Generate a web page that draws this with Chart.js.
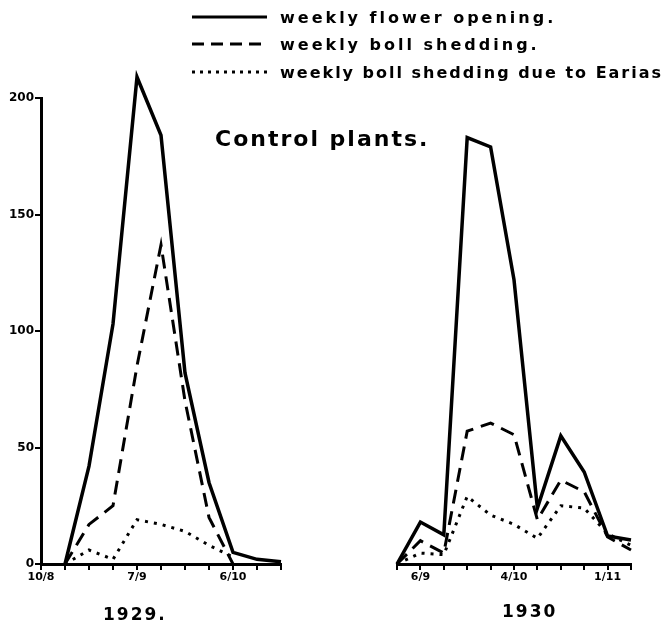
<!DOCTYPE html>
<html>
<head>
<meta charset="utf-8">
<script src="https://cdn.jsdelivr.net/npm/chart.js@4.4.1/dist/chart.umd.min.js"></script>
<style>
body { margin: 0; background: #fff; width: 672px; height: 631px; position: relative; overflow: hidden; font-family: "DejaVu Sans", sans-serif; }
canvas { position: absolute; top: 0; }
#chart1929 { left: 0; }
#chart1930 { left: 370px; }
.txt { position: absolute; white-space: nowrap; font-weight: bold; color: #000; line-height: 1; }
.row { position: absolute; left: 190px; height: 28px; display: flex; align-items: center; white-space: nowrap; }
.row span { font-size: 16px; font-weight: bold; margin-left: 12px; }
</style>
</head>
<body>
<canvas id="chart1929" width="300" height="631"></canvas>
<canvas id="chart1930" width="302" height="631"></canvas>

<div class="row" style="top:3px">
  <svg width="78" height="8"><line x1="2" y1="4" x2="77" y2="4" stroke="#000" stroke-width="3"/></svg>
  <span style="letter-spacing:3px">weekly flower opening.</span>
</div>
<div class="row" style="top:30px">
  <svg width="78" height="8"><line x1="2" y1="4" x2="77" y2="4" stroke="#000" stroke-width="3" stroke-dasharray="12 7"/></svg>
  <span style="letter-spacing:3px">weekly boll shedding.</span>
</div>
<div class="row" style="top:58px">
  <svg width="78" height="8"><line x1="2" y1="4" x2="77" y2="4" stroke="#000" stroke-width="3" stroke-dasharray="3 5"/></svg>
  <span style="letter-spacing:2px">weekly boll shedding due to Earias</span>
</div>

<div class="txt" style="left:215px;top:128px;font-size:22px;letter-spacing:2px">Control plants.</div>
<div class="txt" style="left:103px;top:606px;font-size:17px;letter-spacing:2px">1929.</div>
<div class="txt" style="left:502px;top:603px;font-size:17px;letter-spacing:2px">1930</div>

<script>
// week ticks, only a few are labelled on the drawing
const weeks1929 = ['10/8', '', '', '', '7/9', '', '', '', '6/10', '', ''];
const weeks1930 = ['', '6/9', '', '', '', '4/10', '', '', '', '1/11', ''];

const flowers1929 = [null, 0, 42, 103, 209, 184, 82, 35, 5, 2, 1];
const shedding1929 = [null, 0, 17, 25, 85, 137, 70, 20, 0];
const earias1929 = [null, 0, 6, 2, 19, 17, 14, 8, 3];

const flowers1930 = [0, 18, 12.5, 183, 179, 122, 24, 55, 39.5, 12, 10.3];
const shedding1930 = [0, 10, 4.7, 57, 60.5, 55.5, 19, 36, 31, 11.6, 6];
const earias1930 = [0, 4.7, 4, 29, 21, 17, 11, 25, 24, 13, 8];

const yTicks = [0, 50, 100, 150, 200];

function lineSet(label, data, dash, width) {
    return {
        label: label,
        data: data,
        borderColor: '#000',
        borderWidth: width,
        borderDash: dash,
        pointRadius: 0,
        tension: 0,
        fill: false,
        clip: false
    };
}

function createChart(canvasId, labels, flowers, shedding, earias, showY, padRight, padLeft) {
    return new Chart(document.getElementById(canvasId), {
        type: 'line',
        data: {
            labels: labels,
            datasets: [
                lineSet('weekly flower opening', flowers, [], 3.5),
                lineSet('weekly boll shedding', shedding, [14, 8], 3),
                lineSet('weekly boll shedding due to Earias', earias, [3, 6], 3)
            ]
        },
        options: {
            responsive: false,
            animation: false,
            layout: { padding: { top: 98, right: padRight, bottom: 0, left: padLeft } },
            plugins: { legend: { display: false }, tooltip: { enabled: false } },
            scales: {
                x: {
                    offset: false,
                    afterFit: function (scale) { scale.height = 67; },
                    border: { display: true, color: '#000', width: 3 },
                    grid: { drawOnChartArea: false, drawTicks: true, tickLength: 6, color: '#000', lineWidth: 2 },
                    ticks: { autoSkip: false, maxRotation: 0, padding: 1, color: '#000', font: { family: 'DejaVu Sans', size: 11, weight: 'bold' } }
                },
                y: {
                    display: showY,
                    min: 0,
                    max: 200,
                    afterFit: function (scale) { scale.width = showY ? 41 : 0; },
                    afterBuildTicks: function (scale) { scale.ticks = yTicks.map(v => ({ value: v })); },
                    border: { display: true, color: '#000', width: 3 },
                    grid: { drawOnChartArea: false, drawTicks: true, tickLength: 6, color: '#000', lineWidth: 2 },
                    ticks: { padding: 1, color: '#000', font: { family: 'DejaVu Sans', size: 12, weight: 'bold' } }
                }
            }
        }
    });
}

const chart1929 = createChart('chart1929', weeks1929, flowers1929, shedding1929, earias1929, true, 19, 0);
const chart1930 = createChart('chart1930', weeks1930, flowers1930, shedding1930, earias1930, false, 41, 27);
</script>
</body>
</html>
